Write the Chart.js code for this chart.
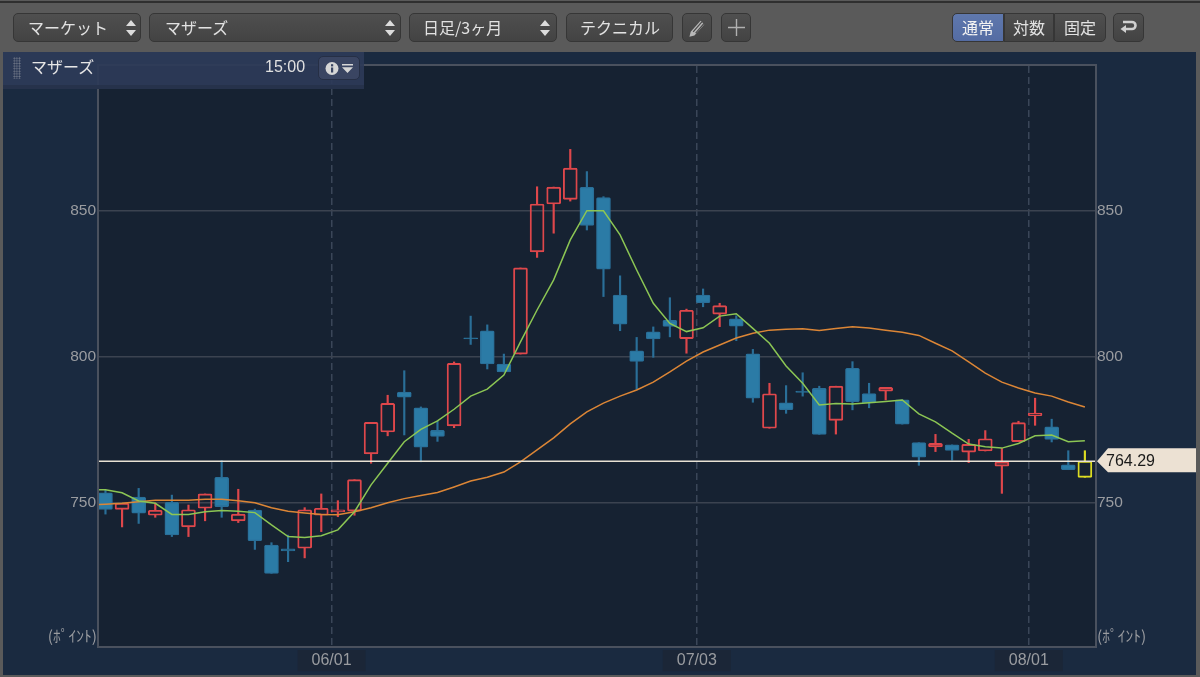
<!DOCTYPE html>
<html lang="ja">
<head>
<meta charset="utf-8">
<title>マザーズ</title>
<script src="https://cdn.jsdelivr.net/npm/chart.js@4/dist/chart.umd.min.js"></script>
<style>
    * { box-sizing: border-box; }
    html, body { margin: 0; width: 1200px; height: 677px; overflow: hidden; background: #5a5a5a; }
    body { position: relative; font-family: "Noto Sans CJK JP", "Liberation Sans", sans-serif; }
    canvas { position: absolute; left: 0; top: 0; }
    .topline { position: absolute; left: 0; top: 1px; width: 1200px; height: 2px; background: #2f2f2f; }
    .btn { position: absolute; top: 13px; height: 29px; border-radius: 5px; border: 1px solid #363636; background: linear-gradient(#4f4f4f, #434343); color: #e2e2e2; font-size: 16px; line-height: 26px; white-space: nowrap; }
    .btn .lbl { position: absolute; top: 0; }
    .btn svg { position: absolute; }
    .active { background: linear-gradient(#5f78ad, #546ca3); color: #f2f2f2; }
    .updown { position: absolute; top: 6px; width: 10px; height: 16px; }
    .panel { position: absolute; left: 3px; top: 52px; width: 361px; height: 37px; background: rgba(45,58,88,0.93); border-bottom: 4px solid rgba(38,50,74,0.9); }
    .grip { position: absolute; left: 10px; top: 5px; width: 8px; height: 22px; background-image: radial-gradient(#6e7686 45%, transparent 50%); background-size: 2.6px 2.6px; }
    .panel .name { position: absolute; left: 28px; top: 2px; font-size: 16px; line-height: 24px; color: #e6e6e6; }
    .panel .time { position: absolute; left: 262px; top: 3px; font-family: "Liberation Sans", sans-serif; font-size: 16px; line-height: 24px; color: #e0e0e0; }
    .infobtn { position: absolute; left: 315px; top: 4px; width: 42px; height: 24px; border-radius: 5px; border: 1px solid #262f45; background: #3a4562; }
</style>
</head>
<body>
<canvas id="chart" width="1200" height="677"></canvas>
<div class="topline"></div>

<div class="btn" style="left:13px;width:128px"><span class="lbl" style="left:14px">マーケット</span><svg class="updown" style="left:112px" viewBox="0 0 10 16"><path d="M5 0l5 6H0zM5 16l5-6H0z" fill="#dcdcdc"/></svg></div>
<div class="btn" style="left:149px;width:252px"><span class="lbl" style="left:15px">マザーズ</span><svg class="updown" style="left:235px" viewBox="0 0 10 16"><path d="M5 0l5 6H0zM5 16l5-6H0z" fill="#dcdcdc"/></svg></div>
<div class="btn" style="left:409px;width:148px"><span class="lbl" style="left:13px">日足/3ヶ月</span><svg class="updown" style="left:130px" viewBox="0 0 10 16"><path d="M5 0l5 6H0zM5 16l5-6H0z" fill="#dcdcdc"/></svg></div>
<div class="btn" style="left:566px;width:107px"><span class="lbl" style="left:13px">テクニカル</span></div>
<div class="btn" style="left:682px;width:30px"><svg style="left:4px;top:3px" width="21" height="21" viewBox="0 0 17 17"><path d="M3 12L11 3l3 3-8 9-4 1z" fill="#b8b8b8"/><path d="M5 12l7-8M7 13l7-8" stroke="#4a4a4a" stroke-width="1"/></svg></div>
<div class="btn" style="left:721px;width:30px"><svg style="left:5px;top:4px" width="19" height="19" viewBox="0 0 19 19"><path d="M9.5 1v17M1 9.5h17" stroke="#b0b0b0" stroke-width="1.4"/></svg></div>
<div class="btn active" style="left:952px;width:52px;border-radius:5px 0 0 5px"><span class="lbl" style="left:9px">通常</span></div>
<div class="btn" style="left:1004px;width:50px;border-radius:0"><span class="lbl" style="left:8px">対数</span></div>
<div class="btn" style="left:1054px;width:52px;border-radius:0 5px 5px 0"><span class="lbl" style="left:9px">固定</span></div>
<div class="btn" style="left:1113px;width:31px"><svg style="left:6px;top:5px" width="18" height="17" viewBox="0 0 18 17"><path d="M3 3h9a3.5 3.5 0 0 1 0 7H5" fill="none" stroke="#d0d0d0" stroke-width="2.6"/><path d="M6 6v8L0.5 10z" fill="#d0d0d0"/></svg></div>

<div class="panel">
    <div class="grip"></div>
    <div class="name">マザーズ</div>
    <div class="time">15:00</div>
    <div class="infobtn">
        <svg style="position:absolute;left:6px;top:4px" width="30" height="15" viewBox="0 0 30 15"><circle cx="7" cy="7.5" r="6.5" fill="#d6d6d6"/><rect x="6" y="6.5" width="2.2" height="5" fill="#3a4562"/><rect x="6" y="3.2" width="2.2" height="2.2" fill="#3a4562"/><path d="M17 3h11v1.6H17zM17 6.2h11L22.5 12z" fill="#d6d6d6"/></svg>
    </div>
</div>

<script>
// 日足 OHLC (読み取り値)
const opens = [
    753.5, 747.8, 752.0, 745.8, 750.2, 741.8, 748.2, 758.8, 743.9, 747.6,
    735.6, 734.3, 734.5, 745.8, 746.9, 747.2, 766.8, 774.3, 788.0, 782.6,
    774.9, 776.4, 806.6, 809.0, 797.6, 801.0, 836.0, 852.4, 854.0, 858.1,
    854.6, 821.2, 802.1, 808.6, 812.6, 806.3, 821.2, 814.7, 813.1, 801.1,
    775.6, 784.3, 788.3, 789.3, 778.3, 796.1, 787.5, 788.3, 785.3, 770.7,
    769.2, 769.9, 767.4, 767.8, 762.6, 771.0, 779.9, 776.1, 763.1, 758.8
];
const closes = [
    747.8, 749.9, 746.5, 747.5, 739.1, 747.7, 753.1, 748.7, 746.2, 737.1,
    725.9, 733.6, 747.7, 748.2, 747.7, 758.0, 777.6, 784.1, 786.2, 769.1,
    772.8, 797.8, 806.2, 797.6, 794.9, 830.5, 852.4, 858.2, 864.7, 845.1,
    830.1, 811.2, 798.5, 806.2, 810.5, 816.0, 818.6, 817.6, 810.6, 785.9,
    787.4, 782.0, 787.9, 773.5, 790.0, 784.7, 784.3, 789.6, 777.0, 765.7,
    770.4, 768.0, 770.1, 772.0, 764.1, 777.5, 780.8, 771.8, 761.4, 764.29
];
const highs = [
    754.5, 749.9, 755.0, 750.0, 752.7, 749.3, 753.1, 764.5, 754.7, 747.9,
    736.4, 739.0, 748.4, 753.1, 750.8, 758.0, 777.6, 786.9, 795.3, 782.9,
    778.0, 798.3, 814.0, 811.0, 801.0, 830.5, 858.3, 858.2, 871.1, 863.5,
    854.9, 827.8, 806.7, 810.3, 820.3, 816.4, 823.3, 818.4, 814.1, 802.6,
    791.0, 790.2, 794.6, 790.0, 790.0, 798.4, 791.0, 789.6, 785.3, 770.7,
    773.5, 769.9, 771.8, 774.8, 768.7, 778.0, 785.9, 778.7, 767.9, 767.9
];
const lows = [
    746.2, 741.8, 743.0, 745.1, 738.5, 738.5, 743.9, 745.1, 743.3, 734.1,
    725.9, 729.9, 731.2, 740.2, 745.3, 745.8, 763.6, 773.0, 773.3, 764.1,
    771.1, 775.8, 804.3, 795.9, 794.9, 801.0, 834.1, 842.4, 853.4, 843.5,
    820.7, 809.0, 789.0, 799.9, 806.9, 801.3, 817.2, 810.4, 805.6, 784.5,
    775.6, 780.7, 786.6, 773.5, 773.6, 781.9, 782.6, 785.3, 777.0, 762.9,
    767.6, 764.7, 763.8, 767.8, 753.3, 771.0, 776.6, 770.9, 761.4, 758.8
];
// 移動平均 (先頭は表示範囲の左にはみ出す1本前)
const maShort = [
    754.6,
    754.5, 753.5, 750.7, 749.9, 746.1, 746.1, 747.0, 747.4, 747.2, 746.7,
    742.5, 738.5, 738.2, 738.8, 740.8, 747.0, 756.2, 763.6, 771.0, 775.2,
    778.1, 782.1, 786.6, 789.0, 793.8, 805.2, 816.1, 826.4, 840.1, 850.1,
    850.1, 841.8, 829.8, 818.4, 811.5, 808.7, 810.0, 814.0, 814.8, 809.8,
    804.7, 796.9, 791.0, 783.6, 784.1, 783.9, 784.3, 784.8, 785.3, 780.5,
    777.8, 773.9, 770.2, 769.3, 768.8, 770.4, 773.0, 773.3, 771.0, 771.3
];
const maLong = [
    749.4,
    749.6, 749.9, 750.4, 750.9, 750.9, 750.9, 751.3, 751.3, 750.8, 750.1,
    748.4, 747.2, 746.6, 746.1, 746.0, 747.0, 748.4, 750.1, 751.5, 752.6,
    753.6, 755.5, 757.5, 758.8, 760.6, 764.1, 768.2, 772.3, 777.1, 781.2,
    784.2, 786.6, 788.7, 791.4, 794.9, 798.6, 801.7, 804.1, 806.5, 808.1,
    809.2, 809.5, 809.7, 809.1, 809.8, 810.4, 809.9, 809.2, 808.5, 807.4,
    804.7, 802.1, 798.3, 794.5, 791.4, 789.4, 787.7, 786.6, 784.6, 782.9
];
const currentPrice = 764.29;
const yTicks = [750, 800, 850];
const dateLabels = ['06/01', '07/03', '08/01'];
const dateIndexes = [14, 36, 56];
const unitLabel = '(ﾎﾟｲﾝﾄ)';

const RED = '#de474b', BLUE = '#2b7ba6', BLUE_EDGE = '#2a6f98', YELLOW = '#dcdc22';
const last = closes.length - 1;
const candleColor = i => i === last ? YELLOW : (closes[i] >= opens[i] ? RED : BLUE_EDGE);
const numFont = "'Liberation Sans', sans-serif";

const bodies = closes.map((c, i) => ({ x: i, y: [Math.min(opens[i], c), Math.max(opens[i], c)] }));
const upperWicks = closes.map((c, i) => ({ x: i, y: [Math.max(opens[i], c), highs[i]] }));
const lowerWicks = closes.map((c, i) => ({ x: i, y: [lows[i], Math.min(opens[i], c)] }));

const wickStyle = {
    type: 'bar', barThickness: 1.5, grouped: false, order: 4,
    backgroundColor: ctx => candleColor(ctx.dataIndex)
};

// 背景とチャート枠、単位、現在値タグ
const frame = {
    id: 'frame',
    beforeDraw(chart) {
        const { ctx, chartArea: a } = chart;
        ctx.save();
        ctx.fillStyle = '#1a2a40';
        ctx.fillRect(3, 52, 1193, 623);
        ctx.fillStyle = '#162232';
        ctx.fillRect(a.left, a.top, a.width, a.height);
        ctx.restore();
    },
    afterDraw(chart) {
        const { ctx, chartArea: a, scales } = chart;
        ctx.save();
        ctx.strokeStyle = '#4a515e';
        ctx.lineWidth = 2;
        ctx.strokeRect(a.left - 1, a.top - 1, a.width + 1, a.height + 1);

        ctx.font = "15.5px 'Noto Sans CJK JP', sans-serif";
        ctx.fillStyle = '#9a9ca0';
        ctx.textBaseline = 'middle';
        ctx.textAlign = 'right';
        ctx.fillText(unitLabel, a.left - 2, 636);
        ctx.textAlign = 'left';
        ctx.fillText(unitLabel, a.right + 1, 636);

        const py = scales.y.getPixelForValue(currentPrice);
        ctx.fillStyle = '#ece1d3';
        ctx.beginPath();
        ctx.moveTo(a.right + 1, py);
        ctx.lineTo(a.right + 12, py - 13);
        ctx.lineTo(1196, py - 13);
        ctx.lineTo(1196, py + 11);
        ctx.lineTo(a.right + 12, py + 11);
        ctx.closePath();
        ctx.fill();
        ctx.fillStyle = '#1a1a1a';
        ctx.font = '16px ' + numFont;
        ctx.fillText(currentPrice.toFixed(2), a.right + 10, py);
        ctx.restore();
    }
};

new Chart(document.getElementById('chart').getContext('2d'), {
    data: {
        datasets: [
            { type: 'line', data: [{ x: -1, y: currentPrice }, { x: closes.length, y: currentPrice }], borderColor: '#e8e2d4', borderWidth: 1.5, pointRadius: 0, order: 0 },
            { type: 'line', data: maShort.map((v, i) => ({ x: i - 1, y: v })), borderColor: '#8cc654', borderWidth: 1.5, pointRadius: 0, order: 1 },
            { type: 'line', data: maLong.map((v, i) => ({ x: i - 1, y: v })), borderColor: '#dc8636', borderWidth: 1.5, pointRadius: 0, order: 2 },
            {
                type: 'bar', data: bodies, barThickness: 14, grouped: false, order: 3,
                borderWidth: 1.25, borderSkipped: false, borderRadius: 1.5,
                borderColor: ctx => candleColor(ctx.dataIndex),
                backgroundColor: ctx => {
                    const i = ctx.dataIndex;
                    return (i !== last && closes[i] < opens[i]) ? BLUE : 'transparent';
                }
            },
            { ...wickStyle, data: upperWicks },
            { ...wickStyle, data: lowerWicks }
        ]
    },
    options: {
        responsive: false,
        animation: false,
        layout: { padding: { top: 66 } },
        plugins: { legend: { display: false }, tooltip: { enabled: false } },
        scales: {
            x: {
                type: 'linear', min: -0.39, max: 59.67, offset: false,
                afterFit(scale) { scale.height = 30; },
                afterBuildTicks(scale) { scale.ticks = dateIndexes.map(i => ({ value: i - 0.38 })); },
                grid: { offset: false, color: '#3a4658', lineWidth: 1.5, tickLength: 0, drawTicks: false },
                border: { display: false, dash: [7, 4] },
                ticks: {
                    color: '#9a9ca0', padding: 4, maxRotation: 0, autoSkip: false,
                    font: { family: numFont, size: 16 },
                    showLabelBackdrop: true, backdropColor: '#1b2637', backdropPadding: { x: 14, y: 1 },
                    callback: (v, idx) => dateLabels[idx]
                }
            },
            y: {
                position: 'left', min: 700.68, max: 899.66,
                afterFit(scale) { scale.width = 99; },
                afterBuildTicks(scale) { scale.ticks = yTicks.map(v => ({ value: v })); },
                grid: { color: '#3b4350', lineWidth: 1.5, drawTicks: false },
                border: { display: false },
                ticks: { color: '#9a9ca0', padding: 3, font: { family: numFont, size: 15.5 } }
            },
            y2: {
                position: 'right', min: 700.68, max: 899.66,
                afterFit(scale) { scale.width = 104; },
                afterBuildTicks(scale) { scale.ticks = yTicks.map(v => ({ value: v })); },
                grid: { display: false, drawTicks: false },
                border: { display: false },
                ticks: { color: '#9a9ca0', padding: 1, font: { family: numFont, size: 15.5 } }
            }
        }
    },
    plugins: [frame]
});
</script>
</body>
</html>
